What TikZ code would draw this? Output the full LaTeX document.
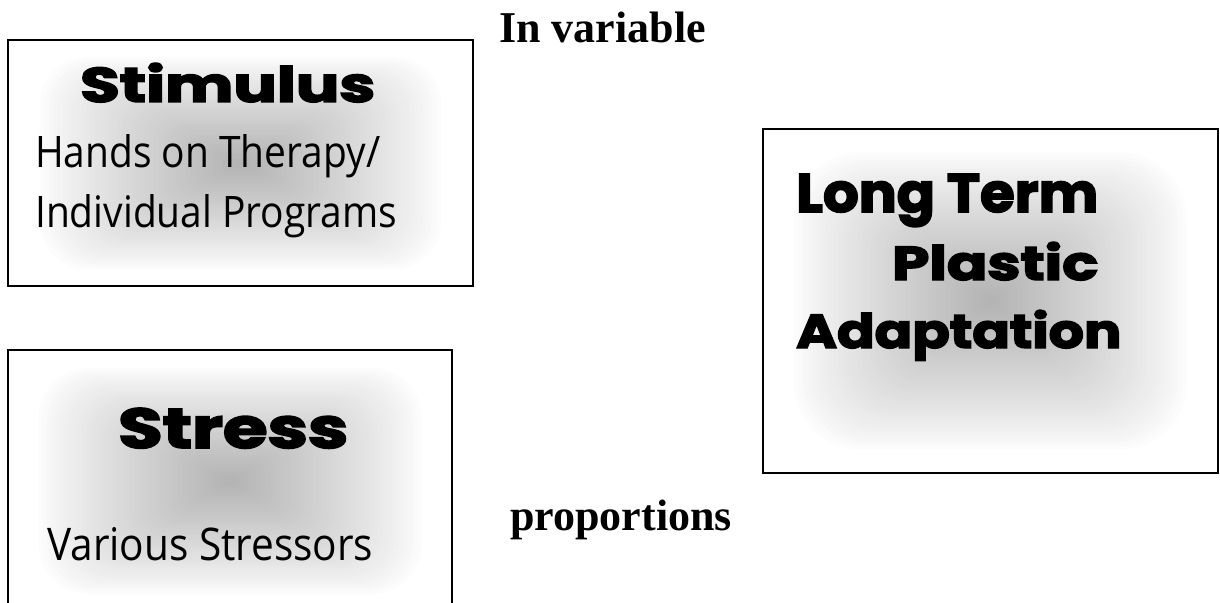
\documentclass[tikz,border=0pt]{standalone}
\usepackage{fontspec}
\usepackage{graphicx}
\setmainfont{Liberation Serif}
\newfontfamily\jokerfont{Poppins}[FakeBold=3]
\newfontfamily\kristenfont{Open Sans}
\newcommand\fitjoker[3]{\resizebox{#1pt}{#2pt}{\jokerfont\bfseries #3}}
\newcommand\fitkristen[3]{\resizebox{#1pt}{#2pt}{\kristenfont #3}}
\newcommand\softfill[4]{%
  \pgfmathsetmacro\sfcx{(#1+#3)/2}%
  \pgfmathsetmacro\sfcy{(#2+#4)/2}%
  \pgfmathsetmacro\sfh{min(abs(#3-#1),abs(#4-#2))/2}%
  \foreach \i in {0,...,50}{%
    \pgfmathsetmacro\sft{\i/51}%
    \pgfmathsetmacro\sfs{max(0,(\sft-0.12)/0.88)}%
    \pgfmathsetmacro\sfg{30*(\sfs^0.85)}%
    \pgfmathsetmacro\sfr{max(0.1,0.45*(1-\sft)*\sfh)}%
    \fill[black!\sfg, rounded corners=\sfr pt] ({\sfcx+(1-\sft)*(#1-\sfcx)},{\sfcy+(1-\sft)*(#2-\sfcy)}) rectangle ({\sfcx+(1-\sft)*(#3-\sfcx)},{\sfcy+(1-\sft)*(#4-\sfcy)});
  }}
\begin{document}
\begin{tikzpicture}[x=1pt,y=-1pt,
  boxline/.style={draw=black, line width=1.6pt},
  txt/.style={anchor=base west, inner sep=0pt},
  serifbold/.style={anchor=base west, inner sep=0pt, font=\fontsize{44}{50}\selectfont\bfseries}]
\useasboundingbox (0,0) rectangle (1220,602);
\clip (0,0) rectangle (1220,602);
\fill[white] (0,0) rectangle (1220,602);

% Stimulus box
\softfill{8}{40}{473}{286}
\draw[boxline] (8,40) rectangle (473,286);
\node[txt] (stimtitle) at (80,102) {\fitjoker{295}{39}{Stimulus}};
\node[txt] (stimline1) at (35,167) {\fitkristen{345}{33}{Hands on Therapy/}};
\node[txt] (stimline2) at (35,227) {\fitkristen{362}{33}{Individual Programs}};

% Stress box
\softfill{8}{350}{452}{612}
\draw[boxline] (8,350) rectangle (452,612);
\node[txt] (stresstitle) at (118,448) {\fitjoker{230}{40}{Stress}};
\node[txt] (stressline) at (47,560) {\fitkristen{326}{33}{Various Stressors}};

% Long term box
\softfill{763}{129}{1218}{473}
\draw[boxline] (763,129) rectangle (1218,473);
\node[txt] (ltline1) at (796,212) {\fitjoker{302}{38}{Long Term}};
\node[txt] (ltline2) at (892,280) {\fitjoker{206}{38}{Plastic}};
\node[txt] (ltline3) at (796,348) {\fitjoker{325}{38}{Adaptation}};

% free labels
\node[serifbold] (invar) at (499,43) {In variable};
\node[serifbold] (props) at (510,530) {proportions};
\end{tikzpicture}
\end{document}
